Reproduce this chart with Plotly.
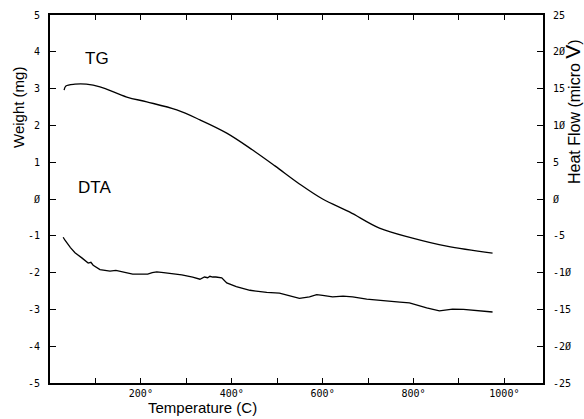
import plotly.graph_objects as go

# TG curve: weight (mg) vs temperature (C)
tg_temp = [31, 35, 55, 80, 110, 169, 213, 279, 330, 389, 446, 495, 549, 600, 659, 725, 798, 873, 974]
tg_weight = [2.96, 3.07, 3.12, 3.12, 3.05, 2.77, 2.64, 2.42, 2.15, 1.79, 1.33, 0.90, 0.41, 0.0, -0.35, -0.79, -1.06, -1.28, -1.47]

# DTA curve: heat flow (micro V) vs temperature (C)
dta_temp = [29, 33, 45, 55, 70, 84, 90, 95, 110, 132, 145, 154, 170, 182, 200, 215, 225, 235, 250, 264,
            290, 314, 322, 330, 340, 347, 352, 358, 365, 378, 389, 410, 440, 460, 477, 505, 530, 549,
            571, 587, 600, 622, 645, 666, 697, 741, 770, 791, 810, 829, 857, 886, 910, 930, 955, 974]
dta_flow = [-5.2, -5.6, -6.6, -7.3, -8.0, -8.7, -8.6, -9.0, -9.6, -9.8, -9.7, -9.8, -10.0, -10.2, -10.2, -10.2, -10.0, -9.9, -10.0, -10.1,
            -10.3, -10.6, -10.8, -10.9, -10.6, -10.7, -10.5, -10.6, -10.6, -10.7, -11.4, -11.9, -12.4, -12.6, -12.7, -12.8, -13.2, -13.5,
            -13.3, -13.0, -13.1, -13.3, -13.2, -13.3, -13.6, -13.9, -14.0, -14.1, -14.5, -14.8, -15.2, -14.95, -15.0, -15.1, -15.2, -15.35]

x_tickvals = [0, 100, 200, 300, 400, 500, 600, 700, 800, 900, 1000]
x_ticktext = ["", "", "200°", "", "400°", "", "600°", "", "800°", "", "1000°"]
y_tickvals = [-5, -4, -3, -2, -1, 0, 1, 2, 3, 4, 5]
y_ticktext = ["-5", "-4", "-3", "-2", "-1", "Ø", "1", "2", "3", "4", "5"]
y2_tickvals = [-25, -20, -15, -10, -5, 0, 5, 10, 15, 20, 25]
y2_ticktext = ["-25", "-2Ø", "-15", "-1Ø", "-5", "Ø", "5", "1Ø", "15", "2Ø", "25"]

fig = go.Figure()
fig.add_trace(go.Scatter(x=tg_temp, y=tg_weight, mode="lines",
                         line=dict(color="black", width=1.3, shape="spline", smoothing=1.0),
                         showlegend=False, yaxis="y", hoverinfo="skip"))
fig.add_trace(go.Scatter(x=dta_temp, y=dta_flow, mode="lines",
                         line=dict(color="black", width=1.3),
                         showlegend=False, yaxis="y2", hoverinfo="skip"))

tickfont = dict(family="DejaVu Sans Mono", size=10, color="black")
label_font = dict(family="Liberation Sans", size=15, color="black")

W, H = 584, 419
L, T = 50, 15
R = W - 543
B = H - 383
pw, ph = W - L - R, H - T - B

def px_to_paper(px, py):
    return (px - L) / pw, 1 - (py - T) / ph

fig.update_layout(
    width=W, height=H,
    margin=dict(l=L, r=R, t=T, b=B, autoexpand=False),
    paper_bgcolor="white", plot_bgcolor="white",
    xaxis=dict(range=[0, 1085], tickvals=x_tickvals, ticktext=x_ticktext,
               ticks="inside", ticklen=5, tickwidth=1, tickcolor="black",
               showline=True, linecolor="black", linewidth=2, mirror="ticks",
               showgrid=False, zeroline=False, tickfont=tickfont, automargin=False),
    yaxis=dict(range=[-5, 5], tickvals=y_tickvals, ticktext=y_ticktext,
               ticks="inside", ticklen=6, tickwidth=1, tickcolor="black",
               showline=True, linecolor="black", linewidth=2,
               showgrid=False, zeroline=False, tickfont=tickfont, ticklabelstandoff=6,
               automargin=False),
    yaxis2=dict(range=[-25, 25], tickvals=y2_tickvals, ticktext=y2_ticktext,
                overlaying="y", side="right",
                ticks="inside", ticklen=6, tickwidth=1, tickcolor="black",
                showline=True, linecolor="black", linewidth=2,
                showgrid=False, zeroline=False, tickfont=tickfont, ticklabelstandoff=6,
                automargin=False),
)

annots = [
    dict(text="TG", x=103, y=3.83, xref="x", yref="y",
         font=dict(family="Liberation Sans", size=17, color="black")),
    dict(text="DTA", x=99, y=0.3, xref="x", yref="y",
         font=dict(family="Liberation Sans", size=17, color="black")),
]
for text, px, py, ang, fs in [
    ("Weight (mg)", 18, 108, -90, 15),
    ("Temperature (C)", 202, 408, 0, 15),
    ("Heat Flow (micro <span style='font-size:21px'>V</span>)", 572, 112, -90, 16),
]:
    xp, yp = px_to_paper(px, py)
    annots.append(dict(text=text, x=xp, y=yp, xref="paper", yref="paper",
                       textangle=ang, font=dict(label_font, size=fs)))
for a in annots:
    a.update(showarrow=False, xanchor="center", yanchor="middle")
fig.update_layout(annotations=annots)

fig.write_html(
    "out.html",
    config={"displayModeBar": False},
    post_script="document.body.style.margin='0';document.body.style.overflow='hidden';",
)
